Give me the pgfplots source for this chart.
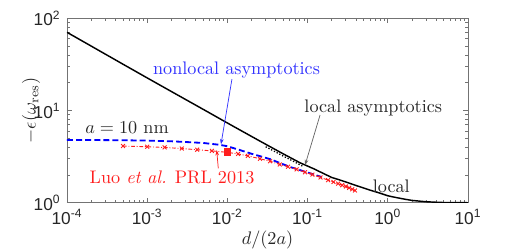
\documentclass[border=0pt]{standalone}
\usepackage{pgfplots}
\pgfplotsset{compat=1.18}
\usepackage{fontspec}
\newfontfamily\helv{Liberation Sans}
\usetikzlibrary{arrows.meta}
\definecolor{axgray}{gray}{0.45}
\definecolor{myblue}{RGB}{0,0,255}
\definecolor{txtblue}{RGB}{50,50,255}
\definecolor{myred}{RGB}{255,30,30}
\newcommand{\tl}[1]{{\helv 10\textsuperscript{#1}}}
\begin{document}
\begin{tikzpicture}
\path[use as bounding box] (-36.85pt,-26pt) rectangle (248.05pt,111.5pt);
\begin{axis}[at={(0,0)}, anchor=south west, scale only axis,
  width=220.55pt, height=101.4pt,
  xmode=log, ymode=log, xmin=1e-4, xmax=10, ymin=1, ymax=100,
  axis line style={axgray}, every tick/.style={axgray}, tick align=inside,
  major tick length=2.6pt, minor tick length=1.5pt,
  xtick={1e-4,1e-3,1e-2,1e-1,1,10},
  xticklabels={\tl{-4},\tl{-3},\tl{-2},\tl{-1},\tl{0},\tl{1}},
  ytick={1,10,100},
  yticklabels={\tl{0},\tl{1},\tl{2}},
  tick label style={font=\fontsize{9.5}{11}\selectfont, text=black!85},
  xlabel={$d/(2a)$},
  xlabel style={at={(axis description cs:0.5,-0.2)}, anchor=center, text=black!85},
]
\addplot[black, line width=0.8pt] coordinates {
(1e-4,70.6)(2e-4,50.1)(5e-4,31.8)(1e-3,22.6)(2e-3,16.1)(5e-3,10.3)(1e-2,7.33)
(2e-2,5.24)(3e-2,4.31)(5e-2,3.38)(8e-2,2.72)(0.12,2.33)(0.15,2.12)(0.2,1.88)
(0.25,1.77)(0.3,1.68)(0.4,1.54)(0.6,1.37)(0.8,1.27)(1,1.19)(1.2,1.15)(1.4,1.12)
(1.7,1.085)(2,1.06)(2.5,1.04)(3,1.025)(4,1.012)(5,1.005)(7,1.001)(10,1.0)};
\addplot[black, densely dotted, line width=0.7pt] coordinates {
(0.03,4.05)(0.05,3.2)(0.07,2.75)(0.09,2.45)};
\addplot[myblue, line width=1pt, dash pattern=on 3.3pt off 1.7pt] coordinates {
(1e-4,4.80)(2e-4,4.79)(5e-4,4.76)(1e-3,4.72)(2e-3,4.64)(3e-3,4.56)(5e-3,4.45)
(8e-3,4.25)(1e-2,4.1)(1.4e-2,3.75)(2e-2,3.4)(2.55e-2,3.2)(3.5e-2,2.95)(4.5e-2,2.7)
(6e-2,2.45)(9.3e-2,2.17)(0.12,2.02)(0.15,1.9)};
\addplot[myred, line width=0.5pt, dash pattern=on 2pt off 1pt on 0.5pt off 1pt, mark=x, mark size=1.5pt, mark options={solid}] coordinates {
(5e-4,4.12)(1e-3,4.05)(1.65e-3,3.98)(2.7e-3,3.87)(4.2e-3,3.76)(6.4e-3,3.65)
(1e-2,3.52)(1.36e-2,3.38)(1.8e-2,3.22)(2.55e-2,3.0)(3.4e-2,2.82)(4.5e-2,2.6)
(5.7e-2,2.46)(7.3e-2,2.3)(9.3e-2,2.14)(0.115,2.02)(0.145,1.88)(0.18,1.76)
(0.21,1.68)(0.24,1.61)(0.27,1.55)(0.30,1.5)(0.33,1.45)(0.36,1.4)(0.39,1.36)};
\addplot[only marks, mark=square*, mark size=1.9pt, myred] coordinates {(1e-2,3.57)};
\node[anchor=base, text=txtblue] at (axis cs:0.013,24.9) {nonlocal asymptotics};
\node[anchor=base, text=black!85] at (axis cs:0.659,9.46) {local asymptotics};
\node[anchor=base, text=black!85] at (axis cs:5.6e-4,5.66) {$a = 10$ nm};
\node[anchor=base, text=myred] at (axis cs:2.04e-3,1.62) {Luo \textit{et al.} PRL 2013};
\node[anchor=base, text=black!85] at (axis cs:1.107,1.28) {local};
\draw[txtblue, line width=0.4pt, -{Stealth[length=3pt,width=2pt]}] (axis cs:0.0114,21.97) -- (axis cs:0.00832,4.30);
\draw[black!60, line width=0.4pt, -{Stealth[length=3pt,width=2pt]}] (axis cs:0.143,8.94) -- (axis cs:0.093,2.56);
\draw[myred, line width=0.4pt, -{Stealth[length=3pt,width=2pt]}] (axis cs:0.0077,2.36) -- (axis cs:0.00736,3.73);
\end{axis}
\node[rotate=90, anchor=center, text=black!85] at (-19.8pt,50.7pt) {$-\epsilon(\omega_{\mathrm{res}})$};
\end{tikzpicture}
\end{document}
